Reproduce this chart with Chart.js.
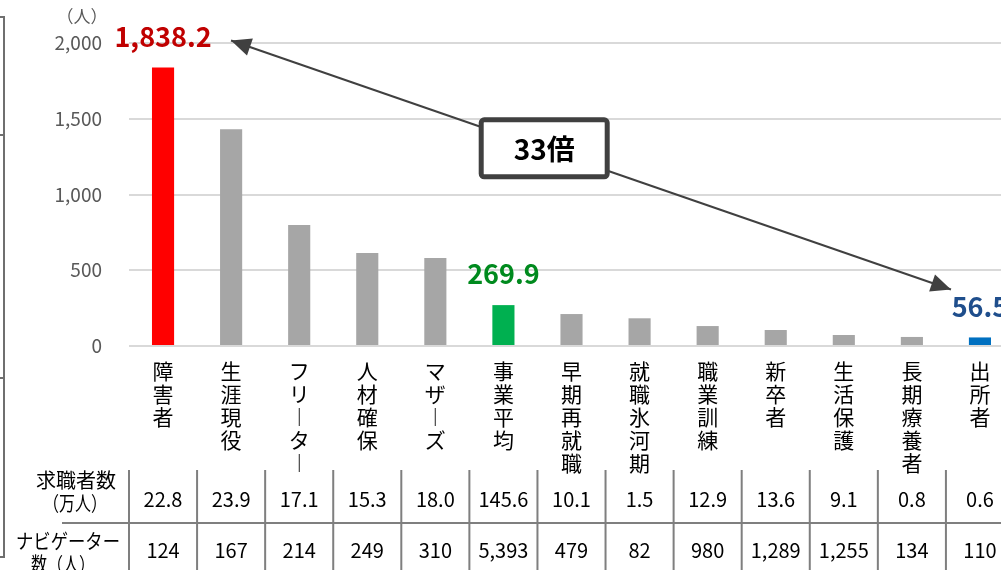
<!DOCTYPE html>
<html lang="ja">
<head>
<meta charset="utf-8">
<title>ナビゲーター1人当たり求職者数</title>
<script src="https://cdn.jsdelivr.net/npm/chart.js@4.4.1/dist/chart.umd.min.js"></script>
<style>
  html, body { margin: 0; padding: 0; background: #fff; overflow: hidden; }
  #wrap { width: 1001px; height: 570px; overflow: hidden; }
  #wrap canvas { display: block; }
</style>
</head>
<body>
<div id="wrap"><canvas id="grafico" width="1020" height="570"></canvas></div>
<script>
// 事業別データ
const categorias = ['障害者', '生涯現役', 'フリーター', '人材確保', 'マザーズ', '事業平均', '早期再就職',
                    '就職氷河期', '職業訓練', '新卒者', '生活保護', '長期療養者', '出所者'];
// ナビゲーター1人当たり求職者数（人）
const porNavegador = [1838.2, 1431.1, 799.1, 614.5, 580.6, 269.9, 210.9, 182.9, 131.6, 105.5, 72.5, 59.7, 56.5];
// 求職者数（万人）
const buscadores = [22.8, 23.9, 17.1, 15.3, 18.0, 145.6, 10.1, 1.5, 12.9, 13.6, 9.1, 0.8, 0.6];
// ナビゲーター数（人）
const navegadores = [124, 167, 214, 249, 310, 5393, 479, 82, 980, 1289, 1255, 134, 110];
// 目盛り
const yTicks = [0, 500, 1000, 1500, 2000];

const CINZA = '#a6a6a6';
const corBarra = { 0: '#ff0000', 5: '#00b050', 12: '#0070c0' };
const corRotulo = { 0: '#c00000', 5: '#008a1e', 12: '#1f4e8c' };

const FONTE_JP = "'Noto Sans CJK JP', 'Noto Sans', sans-serif";
const FONTE_NUM = "'Liberation Sans Narrow', 'Noto Sans CJK JP', sans-serif";

// 縦書きラベル：1文字ずつ積む（長音は縦向きの字形に）
function vertical(txt) {
  return Array.from(txt).map(c => (c === 'ー' ? '︱' : c));
}

function fmt1(v) {
  return v.toLocaleString('en-US', { minimumFractionDigits: 1, maximumFractionDigits: 1 });
}

function seta(ctx, x1, y1, x2, y2) {
  // 矢じり（x2,y2 が先端）
  const ang = Math.atan2(y2 - y1, x2 - x1);
  const len = 20, half = 9;
  ctx.beginPath();
  ctx.moveTo(x2, y2);
  ctx.lineTo(x2 - len * Math.cos(ang) + half * Math.sin(ang), y2 - len * Math.sin(ang) - half * Math.cos(ang));
  ctx.lineTo(x2 - len * Math.cos(ang) - half * Math.sin(ang), y2 - len * Math.sin(ang) + half * Math.cos(ang));
  ctx.closePath();
  ctx.fill();
}

const extras = {
  id: 'extras',
  afterDraw(chart) {
    const { ctx } = chart;
    const x = chart.scales.x, y = chart.scales.y;
    const passo = x.getPixelForValue(1) - x.getPixelForValue(0);
    ctx.save();

    // 左端の枠線
    ctx.strokeStyle = '#6f6f6f';
    ctx.lineWidth = 2;
    ctx.beginPath();
    ctx.moveTo(4, 17); ctx.lineTo(4, 557);
    [17, 135, 378, 557].forEach(yy => { ctx.moveTo(0, yy); ctx.lineTo(5, yy); });
    ctx.stroke();

    // 単位
    ctx.fillStyle = '#595959';
    ctx.font = '17px ' + FONTE_JP;
    ctx.textAlign = 'center';
    ctx.textBaseline = 'middle';
    ctx.fillText('（人）', 82, 17);

    // 値ラベル
    const pos = {};
    ctx.font = 'bold 27px ' + FONTE_NUM;
    Object.keys(corRotulo).forEach(k => {
      const i = Number(k);
      const px = x.getPixelForValue(i);
      const py = y.getPixelForValue(porNavegador[i]) - 31;
      ctx.fillStyle = corRotulo[i];
      ctx.fillText(fmt1(porNavegador[i]), px, py);
      pos[i] = { x: px, y: py };
    });

    // 両矢印と倍率
    const ax1 = pos[0].x + 68, ay1 = pos[0].y + 4;
    const ax2 = pos[12].x - 29, ay2 = pos[12].y - 17;
    ctx.strokeStyle = '#404040';
    ctx.fillStyle = '#404040';
    ctx.lineWidth = 2;
    ctx.beginPath();
    ctx.moveTo(ax1, ay1); ctx.lineTo(ax2, ay2);
    ctx.stroke();
    seta(ctx, ax2, ay2, ax1, ay1);
    seta(ctx, ax1, ay1, ax2, ay2);

    const t = 0.435;
    const bx = ax1 + (ax2 - ax1) * t, by = ay1 + (ay2 - ay1) * t;
    ctx.fillStyle = '#fff';
    ctx.lineWidth = 5;
    ctx.beginPath();
    ctx.roundRect(bx - 63, by - 29, 126, 57, 3);
    ctx.fill();
    ctx.stroke();
    ctx.fillStyle = '#000';
    ctx.font = 'bold 28px ' + FONTE_JP;
    ctx.fillText(Math.round(porNavegador[0] / porNavegador[12]) + '倍', bx, by + 1);

    // 表
    const linha1 = 499, linha2 = 550;
    ctx.strokeStyle = '#7f7f7f';
    ctx.lineWidth = 2;
    ctx.beginPath();
    ctx.moveTo(62, 523); ctx.lineTo(chart.width, 523);
    for (let i = 0; i < categorias.length; i++) {
      const bx0 = x.getPixelForValue(i) - passo / 2;
      ctx.moveTo(bx0, 470); ctx.lineTo(bx0, 570);
    }
    ctx.stroke();

    ctx.fillStyle = '#000';
    ctx.font = '20px ' + FONTE_JP;
    ctx.fillText('求職者数', 76, 480);
    ctx.fillText('（万人）', 75, 503, 64);
    ctx.fillText('ナビゲーター', 68, 541, 104);
    ctx.fillText('数（人）', 63, 564, 64);

    ctx.font = '20px ' + FONTE_NUM;
    categorias.forEach((_, i) => {
      const cx = x.getPixelForValue(i);
      ctx.fillText(buscadores[i].toFixed(1), cx, linha1);
      ctx.fillText(navegadores[i].toLocaleString('en-US'), cx, linha2);
    });

    ctx.restore();
  }
};

new Chart(document.getElementById('grafico'), {
  type: 'bar',
  data: {
    labels: categorias.map(vertical),
    datasets: [{
      data: porNavegador,
      backgroundColor: porNavegador.map((_, i) => corBarra[i] || CINZA),
      barPercentage: 0.325,
      categoryPercentage: 1
    }]
  },
  options: {
    responsive: false,
    animation: false,
    devicePixelRatio: 1,
    layout: { padding: { left: 0, right: 6, top: 43, bottom: 0 } },
    plugins: { legend: { display: false }, tooltip: { enabled: false } },
    scales: {
      x: {
        grid: { display: false, drawTicks: false },
        border: { display: false },
        ticks: {
          autoSkip: false, maxRotation: 0, minRotation: 0, padding: 13,
          color: '#000',
          font: { family: FONTE_JP, size: 21, lineHeight: 1.1 }
        },
        afterFit(s) { s.height = 224; }
      },
      y: {
        min: yTicks[0],
        max: yTicks[yTicks.length - 1],
        afterBuildTicks(s) { s.ticks = yTicks.map(v => ({ value: v })); },
        grid: { color: '#d9d9d9', lineWidth: 2, drawTicks: false },
        border: { display: false },
        ticks: {
          padding: 27,
          color: '#595959',
          font: { family: FONTE_NUM, size: 19 },
          callback: v => v.toLocaleString('en-US')
        },
        afterFit(s) { s.width = 129; }
      }
    }
  },
  plugins: [extras]
});
</script>
</body>
</html>
